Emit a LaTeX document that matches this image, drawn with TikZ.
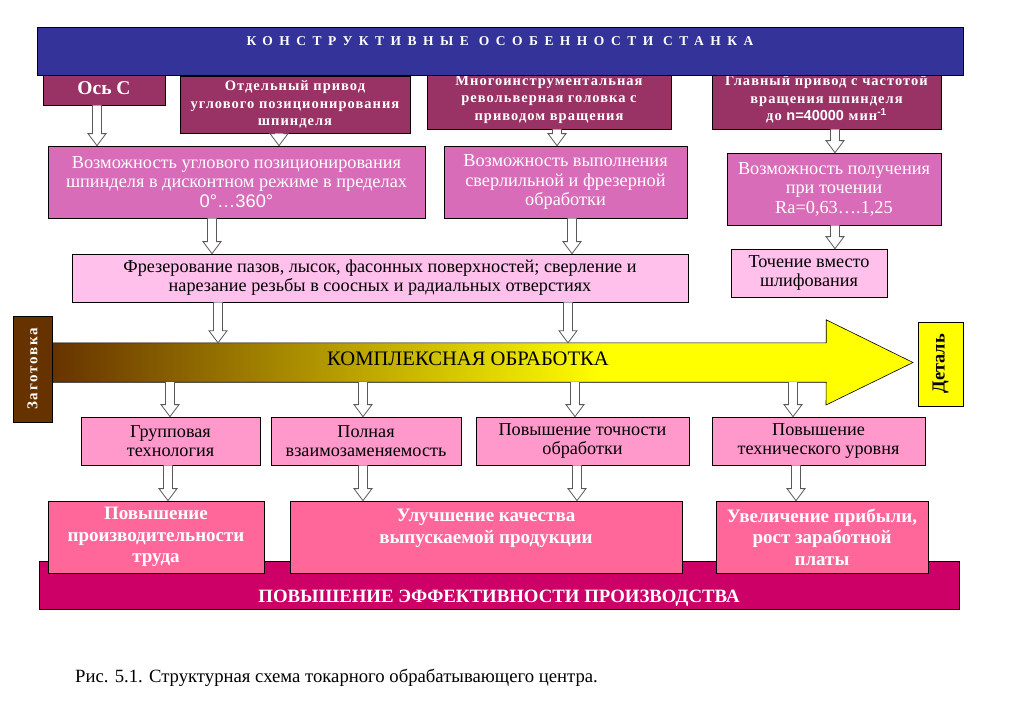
\documentclass[tikz,border=0pt]{standalone}
\usepackage{fontspec}
\setmainfont{Liberation Serif}
\setsansfont{Liberation Sans}
\newfontfamily\wideserif[LetterSpace=48]{Liberation Serif}
\newfontfamily\spserif[LetterSpace=7]{Liberation Serif}
\newfontfamily\blankserif[LetterSpace=12]{Liberation Serif}
\usetikzlibrary{calc}

\definecolor{titleblue}{RGB}{51,51,153}
\definecolor{topmaroon}{RGB}{153,51,102}
\definecolor{orchid}{RGB}{216,108,184}
\definecolor{lightpink}{RGB}{255,192,236}
\definecolor{midpink}{RGB}{255,153,204}
\definecolor{hotpink}{RGB}{255,102,153}
\definecolor{deepmagenta}{RGB}{204,0,102}
\definecolor{blankbrown}{RGB}{102,51,0}
\definecolor{partyellow}{RGB}{255,255,0}

\pgfdeclarehorizontalshading{procshade}{100bp}{color(0bp)=(blankbrown); color(25bp)=(blankbrown); color(57bp)=(partyellow); color(100bp)=(partyellow)}

\tikzset{
  box/.style={draw=black, line width=0.8pt, inner sep=0pt, align=center},
  topbox/.style={box, fill=topmaroon, text=white, font=\spserif\bfseries\fontsize{14.5}{17.5}\selectfont},
  optbox/.style={box, fill=orchid, text=white, font=\fontsize{18.3}{19.5}\selectfont},
  opbox/.style={box, fill=lightpink, font=\fontsize{18.2}{19}\selectfont},
  resbox/.style={box, fill=midpink, font=\fontsize{18.2}{19}\selectfont, minimum height=48},
  gainbox/.style={box, fill=hotpink, text=white, font=\bfseries\fontsize{19}{21.5}\selectfont, minimum height=72},
  conn/.style={draw=black!65, fill=white, line width=0.8pt}
}

% hollow block arrow from #1 down to #2
\newcommand{\barrow}[2]{%
  \draw[conn] let \p1=(#1), \p2=(#2) in
    (\x1-4.5pt,\y1) -- (\x1-4.5pt,\y2+12pt) -- (\x1-9pt,\y2+12pt) -- (\x1,\y2)
    -- (\x1+9pt,\y2+12pt) -- (\x1+4.5pt,\y2+12pt) -- (\x1+4.5pt,\y1);}

\begin{document}
\begin{tikzpicture}[x=1pt,y=-1pt]
\useasboundingbox[fill=white] (0,0) rectangle (1023,715);

% design features
\node[topbox, minimum width=122, minimum height=33, font=\bfseries\fontsize{19.5}{22}\selectfont] (osc) at (104,88.5) {Ось С};
\node[topbox, minimum width=230, minimum height=57] (priv) at (295,104.5) {Отдельный привод\\углового позиционирования\\шпинделя};
\node[topbox, minimum width=244, minimum height=59] (rev) at (549,99.5) {Многоинструментальная\\револьверная головка с\\приводом вращения};
\node[topbox, minimum width=229, minimum height=59] (mainpriv) at (826.5,99.5) {Главный привод с частотой\\вращения шпинделя\\до {\sffamily n=40000} мин\textsuperscript{\sffamily-1}};
\node[box, fill=titleblue, text=white, minimum width=926, text height=18.5, text depth=29.5,
  font=\wideserif\bfseries\fontsize{13.5}{16}\selectfont] (title) at (500,51) {КОНСТРУКТИВНЫЕ ОСОБЕННОСТИ СТАНКА};

% possibilities
\node[optbox, minimum width=377, minimum height=72] (ang) at (236.5,182) {Возможность углового позиционирования\\шпинделя в дисконтном режиме в пределах\\{\sffamily 0°…360°}};
\node[optbox, minimum width=243, minimum height=72] (drill) at (565.5,182) {Возможность выполнения\\сверлильной и фрезерной\\обработки};
\node[optbox, minimum width=214, minimum height=72] (rough) at (834,189) {Возможность получения\\при точении\\Ra=0,63….1,25};

% operations
\node[opbox, minimum width=616, minimum height=48] (mill) at (380,278) {Фрезерование пазов, лысок, фасонных поверхностей; сверление и\\нарезание резьбы в соосных и радиальных отверстиях};
\node[opbox, minimum width=156, minimum height=48] (grind) at (809,273) {Точение вместо\\шлифования};

% complex machining
\node[minimum width=774, minimum height=39, inner sep=0pt] (body) at (439,362.5) {};
\shade[shading=procshade, draw=black, line width=0.6pt] (body.north west) -- (body.north east) -- ++(0,-23)
  -- (913,362.5) -- (826,405) -- (body.south east) -- (body.south west) -- cycle;
\node[font=\fontsize{20.6}{23}\selectfont] (proc) at (468,359) {КОМПЛЕКСНАЯ ОБРАБОТКА};
\node[box, fill=blankbrown, text=white, rotate=90, minimum width=106, minimum height=39,
  font=\blankserif\bfseries\fontsize{15}{18}\selectfont] (blank) at (32.5,369) {Заготовка};
\node[box, fill=partyellow, rotate=90, minimum width=84, minimum height=45,
  font=\bfseries\fontsize{18.4}{20}\selectfont] (part) at (940.5,364) {Деталь};

% results
\node[resbox, minimum width=179] (group) at (170.5,441) {Групповая\\технология};
\node[resbox, minimum width=190] (inter) at (366,441) {Полная\\взаимозаменяемость};
\node[resbox, minimum width=213] (prec) at (582.5,441) {Повышение точности\\обработки};
\node[resbox, minimum width=213] (tech) at (818.5,441) {Повышение\\технического уровня};

% efficiency
\node[box, fill=deepmagenta, text=white, minimum width=920, text height=41, text depth=7,
  font=\bfseries\fontsize{18.8}{21}\selectfont] (eff) at (499,585) {ПОВЫШЕНИЕ ЭФФЕКТИВНОСТИ ПРОИЗВОДСТВА};
\node[gainbox, minimum width=216] (prod) at (156,537) {Повышение\\производительности\\труда};
\node[gainbox, minimum width=392] (qual) at (486,537) {Улучшение качества\\выпускаемой продукции\\\mbox{}};
\node[gainbox, minimum width=212] (profit) at (822,537) {Увеличение прибыли,\\рост заработной\\платы};

% block arrows
\foreach \xx/\a/\b in {97/osc/ang, 279/priv/ang, 557/rev/drill, 835/mainpriv/rough,
    212/ang/mill, 572/drill/mill, 835/rough/grind, 218/mill/body, 568/mill/body,
    170/body/group, 363/body/inter, 575/body/prec, 793/body/tech,
    168/group/prod, 363/inter/qual, 577/prec/qual, 796/tech/profit}
  \barrow{\xx,0 |- \a.south}{\xx,0 |- \b.north};

\node[font=\fontsize{18.7}{21}\selectfont] (cap) at (336.5,678) {Рис. 5.1. Структурная схема токарного обрабатывающего центра.};
\end{tikzpicture}
\end{document}
